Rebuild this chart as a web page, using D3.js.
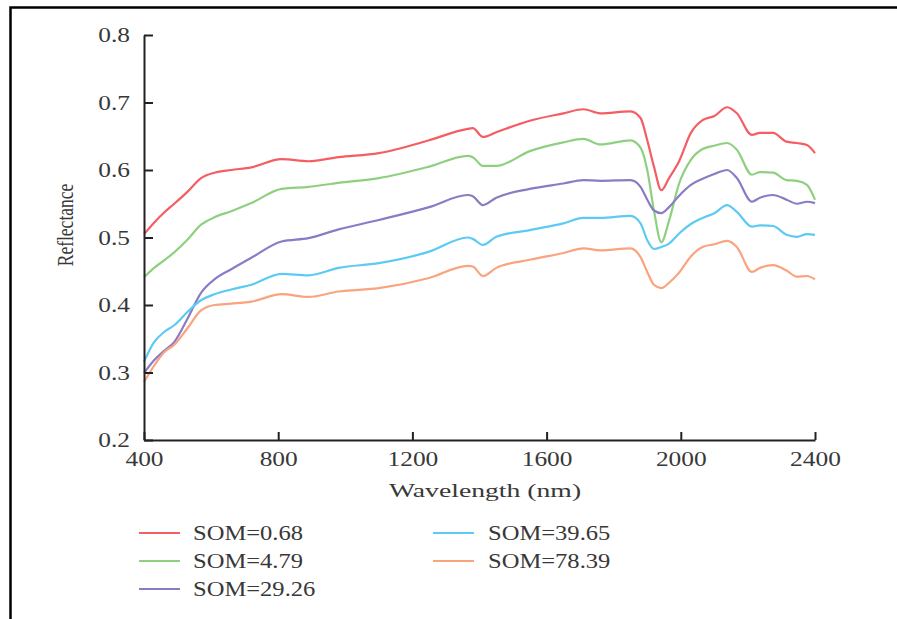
<!DOCTYPE html>
<html>
<head>
<meta charset="utf-8">
<script src="https://cdn.jsdelivr.net/npm/d3@7/dist/d3.min.js"></script>
<style>
  html, body { margin: 0; padding: 0; background: #fff; }
  svg { display: block; }
</style>
</head>
<body>
<svg id="chart" width="897" height="619"></svg>
<script>
// ---------------- data ----------------
const wavelengths = [400, 430, 460, 490, 530, 570, 610, 660, 720, 810, 890, 980, 1100, 1250, 1365, 1380, 1410, 1450, 1550, 1650, 1710, 1760, 1850, 1880, 1900, 1920, 1942, 1965, 1995, 2030, 2065, 2100, 2138, 2167, 2212, 2236, 2275, 2315, 2346, 2376, 2400];

const som068 = [0.505, 0.522, 0.537, 0.550, 0.568, 0.588, 0.596, 0.600, 0.604, 0.616, 0.613, 0.619, 0.625, 0.644, 0.661, 0.662, 0.649, 0.656, 0.673, 0.684, 0.690, 0.684, 0.687, 0.677, 0.644, 0.605, 0.570, 0.588, 0.613, 0.655, 0.674, 0.680, 0.693, 0.684, 0.652, 0.655, 0.655, 0.642, 0.640, 0.637, 0.625];
const som479 = [0.441, 0.455, 0.466, 0.478, 0.497, 0.519, 0.530, 0.539, 0.551, 0.572, 0.575, 0.581, 0.588, 0.605, 0.621, 0.619, 0.606, 0.606, 0.628, 0.641, 0.646, 0.638, 0.644, 0.633, 0.600, 0.540, 0.493, 0.525, 0.580, 0.615, 0.631, 0.636, 0.640, 0.630, 0.593, 0.597, 0.596, 0.585, 0.584, 0.578, 0.556];
const som2926 = [0.299, 0.318, 0.332, 0.345, 0.380, 0.418, 0.438, 0.453, 0.470, 0.494, 0.499, 0.512, 0.526, 0.545, 0.563, 0.561, 0.548, 0.559, 0.572, 0.580, 0.585, 0.584, 0.585, 0.575, 0.556, 0.540, 0.536, 0.545, 0.562, 0.578, 0.587, 0.594, 0.600, 0.588, 0.553, 0.559, 0.563, 0.556, 0.550, 0.553, 0.551];
const som3965 = [0.316, 0.345, 0.360, 0.370, 0.390, 0.407, 0.416, 0.423, 0.430, 0.446, 0.444, 0.455, 0.462, 0.479, 0.500, 0.498, 0.489, 0.501, 0.511, 0.521, 0.529, 0.529, 0.532, 0.521, 0.496, 0.483, 0.486, 0.491, 0.506, 0.520, 0.529, 0.536, 0.548, 0.538, 0.516, 0.518, 0.517, 0.504, 0.501, 0.505, 0.504];
const som7839 = [0.286, 0.310, 0.330, 0.341, 0.366, 0.392, 0.400, 0.402, 0.405, 0.416, 0.412, 0.420, 0.425, 0.440, 0.458, 0.457, 0.443, 0.455, 0.467, 0.477, 0.484, 0.481, 0.484, 0.471, 0.449, 0.430, 0.425, 0.433, 0.448, 0.472, 0.486, 0.490, 0.495, 0.486, 0.449, 0.455, 0.459, 0.451, 0.442, 0.443, 0.438];

const seriesNames = ["SOM=0.68", "SOM=4.79", "SOM=29.26", "SOM=39.65", "SOM=78.39"];
const seriesValues = [som068, som479, som2926, som3965, som7839];
const seriesColors = ["#f45d62", "#8fd080", "#8a7cc4", "#5ccaf2", "#f9a37f"];

const xTicks = [400, 800, 1200, 1600, 2000, 2400];
const yTicks = [0.2, 0.3, 0.4, 0.5, 0.6, 0.7, 0.8];

// ---------------- layout ----------------
const svg = d3.select("#chart");
const W = 897, H = 619;
const plot = { left: 144, right: 815, top: 35, bottom: 440 };
const serif = "'Liberation Serif', 'Times New Roman', serif";
const textColor = "#383838";
const axisColor = "#222";

svg.append("rect").attr("width", W).attr("height", H).attr("fill", "#fff");

// figure frame (left & top edges)
svg.append("path")
  .attr("d", `M10.5,${H} V7.5 H${W}`)
  .attr("fill", "none").attr("stroke", "#000").attr("stroke-width", 2.5);

const x = d3.scaleLinear().domain([400, 2400]).range([plot.left, plot.right]);
const y = d3.scaleLinear().domain([0.2, 0.8]).range([plot.bottom, plot.top]);

// lines
const line = d3.line()
  .x(d => x(d[0]))
  .y(d => y(d[1]))
  .curve(d3.curveMonotoneX);

const lines = svg.append("g");
seriesValues.forEach((vals, i) => {
  const pts = wavelengths.map((w, j) => [w, vals[j]]);
  lines.append("path")
    .datum(pts)
    .attr("d", line)
    .attr("fill", "none")
    .attr("stroke", seriesColors[i])
    .attr("stroke-width", 2.2)
    .attr("stroke-linejoin", "round");
});

// axes
const yAxis = d3.axisLeft(y).tickValues(yTicks).tickFormat(d3.format(".1f"))
  .tickSizeInner(-9).tickSizeOuter(0).tickPadding(14);
const xAxis = d3.axisBottom(x).tickValues(xTicks).tickFormat(d3.format("d"))
  .tickSizeInner(-8).tickSizeOuter(0).tickPadding(12);

const gy = svg.append("g").attr("transform", `translate(${plot.left},0)`).call(yAxis);
const gx = svg.append("g").attr("transform", `translate(0,${plot.bottom})`).call(xAxis);

[gy, gx].forEach(g => {
  g.select(".domain").attr("stroke", axisColor).attr("stroke-width", 2);
  g.selectAll(".tick line").attr("stroke", axisColor).attr("stroke-width", 2);
  g.selectAll(".tick text")
    .attr("fill", textColor)
    .style("font-family", serif)
    .style("font-size", "20px");
});

// horizontally stretch tick labels (reference type is wide)
gy.selectAll(".tick text").each(function() {
  const t = d3.select(this);
  const xx = +t.attr("x");
  t.attr("x", 0).attr("transform", `translate(${xx},0) scale(1.27,1)`);
});
gx.selectAll(".tick text").each(function() {
  const t = d3.select(this);
  const yy = +t.attr("y");
  t.attr("y", 0).attr("transform", `translate(0,${yy}) scale(1.27,1)`);
});
gy.selectAll(".tick text").attr("dy", "0.33em");

// axis titles
svg.append("text")
  .attr("transform", `translate(485,497) scale(1.42,1)`)
  .attr("text-anchor", "middle")
  .attr("fill", textColor)
  .style("font-family", serif).style("font-size", "19.5px")
  .text("Wavelength (nm)");

svg.append("text")
  .attr("transform", `translate(73,225) scale(1.3,1) rotate(-90)`)
  .attr("text-anchor", "middle")
  .attr("fill", textColor)
  .style("font-family", serif).style("font-size", "17.5px")
  .text("Reflectance");

// legend
const legendCols = [{ lx: 139, tx: 193 }, { lx: 433, tx: 488 }];
const legendRows = [533, 561, 589];
const legendPos = [[0, 0], [0, 1], [0, 2], [1, 0], [1, 1]];
const legend = svg.append("g");
seriesNames.forEach((name, i) => {
  const c = legendCols[legendPos[i][0]];
  const ry = legendRows[legendPos[i][1]];
  legend.append("line")
    .attr("x1", c.lx).attr("x2", c.lx + 41)
    .attr("y1", ry).attr("y2", ry)
    .attr("stroke", seriesColors[i]).attr("stroke-width", 2.2);
  legend.append("text")
    .attr("transform", `translate(${c.tx},${ry + 7}) scale(1.17,1)`)
    .attr("fill", textColor)
    .style("font-family", serif).style("font-size", "21px")
    .text(name);
});
</script>
</body>
</html>
